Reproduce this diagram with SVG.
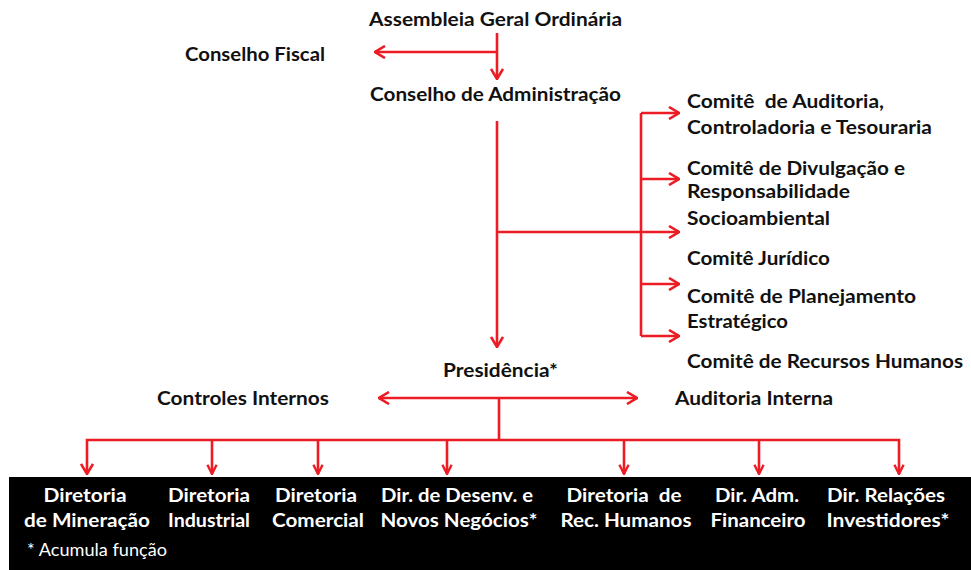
<svg xmlns="http://www.w3.org/2000/svg" width="971" height="570" viewBox="0 0 971 570">
<defs>
<style>
.t{font-family:Lato,"Open Sans","Liberation Sans",sans-serif;font-weight:bold;font-size:18px;fill:#111}
.w{font-family:Lato,"Open Sans","Liberation Sans",sans-serif;font-weight:bold;font-size:18.5px;fill:#fff;text-anchor:middle}
.n{font-family:Lato,"Open Sans","Liberation Sans",sans-serif;font-size:16.5px;fill:#fff}
.c{fill:none;stroke:#ed1c24;stroke-width:2.6}
</style>
<marker id="ah" viewBox="0 0 12 14" refX="11" refY="7" markerWidth="12" markerHeight="14" markerUnits="userSpaceOnUse" orient="auto">
<path d="M1,1 L11,7 L1,13" fill="none" stroke="#ed1c24" stroke-width="2.6"/>
</marker>
<marker id="as" viewBox="0 0 12 12" refX="11" refY="6" markerWidth="11" markerHeight="12" markerUnits="userSpaceOnUse" orient="auto">
<path d="M1,1 L11,6 L1,11" fill="none" stroke="#ed1c24" stroke-width="2.6"/>
</marker>
<marker id="as0" viewBox="0 0 12 14" refX="1" refY="7" markerWidth="12" markerHeight="14" markerUnits="userSpaceOnUse" orient="auto">
<path d="M11,1 L1,7 L11,13" fill="none" stroke="#ed1c24" stroke-width="2.6"/>
</marker>
</defs>
<rect x="0" y="0" width="971" height="570" fill="#fff"/>
<rect x="9" y="477" width="962" height="93" fill="#000"/>

<g id="connectors">
<path class="c" d="M497,33 V79" marker-end="url(#ah)"/>
<path class="c" d="M497,52 H375" marker-end="url(#ah)"/>
<path class="c" d="M497,121 V347" marker-end="url(#ah)"/>
<path class="c" d="M497,232 H679" marker-end="url(#ah)"/>
<path class="c" d="M641,113 V336"/>
<path class="c" d="M641,113 H679" marker-end="url(#ah)"/>
<path class="c" d="M641,179 H679" marker-end="url(#ah)"/>
<path class="c" d="M641,284 H679" marker-end="url(#ah)"/>
<path class="c" d="M641,336 H679" marker-end="url(#ah)"/>
<path class="c" d="M379,398 H637" marker-start="url(#as0)" marker-end="url(#ah)"/>
<path class="c" d="M499,398 V440"/>
<path class="c" d="M87,474 V440 H899 V474" marker-start="url(#as0)" marker-end="url(#as)"/>
<path class="c" d="M212,440 V474" marker-end="url(#as)"/>
<path class="c" d="M318,440 V474" marker-end="url(#as)"/>
<path class="c" d="M447,440 V474" marker-end="url(#as)"/>
<path class="c" d="M624,440 V474" marker-end="url(#as)"/>
<path class="c" d="M759,440 V474" marker-end="url(#as)"/>
</g>

<g id="assembleia"><text class="t" x="369" y="26" textLength="253" lengthAdjust="spacingAndGlyphs">Assembleia Geral Ordinária</text></g>
<g id="conselho-fiscal"><text class="t" x="185" y="61" textLength="140" lengthAdjust="spacingAndGlyphs">Conselho Fiscal</text></g>
<g id="conselho-adm"><text class="t" x="370" y="101" font-size="17" textLength="251" lengthAdjust="spacingAndGlyphs">Conselho de Administração</text></g>

<g id="comite-auditoria">
<text class="t" x="687" y="108" textLength="197" lengthAdjust="spacingAndGlyphs" xml:space="preserve">Comitê  de Auditoria,</text>
<text class="t" x="687" y="134" textLength="245" lengthAdjust="spacingAndGlyphs">Controladoria e Tesouraria</text>
</g>
<g id="comite-divulgacao">
<text class="t" x="687" y="175" textLength="218" lengthAdjust="spacingAndGlyphs">Comitê de Divulgação e</text>
<text class="t" x="687" y="198" font-size="16" textLength="163" lengthAdjust="spacingAndGlyphs">Responsabilidade</text>
<text class="t" x="687" y="225" textLength="143" lengthAdjust="spacingAndGlyphs">Socioambiental</text>
</g>
<g id="comite-juridico"><text class="t" x="687" y="265" textLength="143" lengthAdjust="spacingAndGlyphs">Comitê Jurídico</text></g>
<g id="comite-planejamento">
<text class="t" x="687" y="303" textLength="229" lengthAdjust="spacingAndGlyphs">Comitê de Planejamento</text>
<text class="t" x="687" y="328" textLength="101" lengthAdjust="spacingAndGlyphs">Estratégico</text>
</g>
<g id="comite-rh"><text class="t" x="687" y="368" textLength="276" lengthAdjust="spacingAndGlyphs">Comitê de Recursos Humanos</text></g>

<g id="presidencia"><text class="t" x="443" y="377" textLength="115" lengthAdjust="spacingAndGlyphs">Presidência*</text></g>
<g id="controles-internos"><text class="t" x="157" y="405" textLength="172" lengthAdjust="spacingAndGlyphs">Controles Internos</text></g>
<g id="auditoria-interna"><text class="t" x="675" y="405" textLength="158" lengthAdjust="spacingAndGlyphs">Auditoria Interna</text></g>

<g id="dir-mineracao">
<text class="w" x="85" y="502" textLength="83" lengthAdjust="spacingAndGlyphs">Diretoria</text>
<text class="w" x="87" y="527" textLength="126" lengthAdjust="spacingAndGlyphs">de Mineração</text>
</g>
<g id="dir-industrial">
<text class="w" x="209" y="502" textLength="82" lengthAdjust="spacingAndGlyphs">Diretoria</text>
<text class="w" x="209" y="527" textLength="82" lengthAdjust="spacingAndGlyphs">Industrial</text>
</g>
<g id="dir-comercial">
<text class="w" x="316" y="502" textLength="82" lengthAdjust="spacingAndGlyphs">Diretoria</text>
<text class="w" x="318" y="527" textLength="92" lengthAdjust="spacingAndGlyphs">Comercial</text>
</g>
<g id="dir-desenv">
<text class="w" x="457" y="502" textLength="152" lengthAdjust="spacingAndGlyphs">Dir. de Desenv. e</text>
<text class="w" x="459" y="527" textLength="157" lengthAdjust="spacingAndGlyphs">Novos Negócios*</text>
</g>
<g id="dir-rh">
<text class="w" x="624" y="502" textLength="115" lengthAdjust="spacingAndGlyphs" xml:space="preserve">Diretoria  de</text>
<text class="w" x="626" y="527" textLength="131" lengthAdjust="spacingAndGlyphs">Rec. Humanos</text>
</g>
<g id="dir-financeiro">
<text class="w" x="757" y="502" textLength="84" lengthAdjust="spacingAndGlyphs">Dir. Adm.</text>
<text class="w" x="758" y="527" textLength="95" lengthAdjust="spacingAndGlyphs">Financeiro</text>
</g>
<g id="dir-ri">
<text class="w" x="886" y="502" textLength="118" lengthAdjust="spacingAndGlyphs">Dir. Relações</text>
<text class="w" x="888" y="527" textLength="123" lengthAdjust="spacingAndGlyphs">Investidores*</text>
</g>
<g id="nota"><text class="n" x="27" y="556" textLength="140" lengthAdjust="spacingAndGlyphs">* Acumula função</text></g>
</svg>
